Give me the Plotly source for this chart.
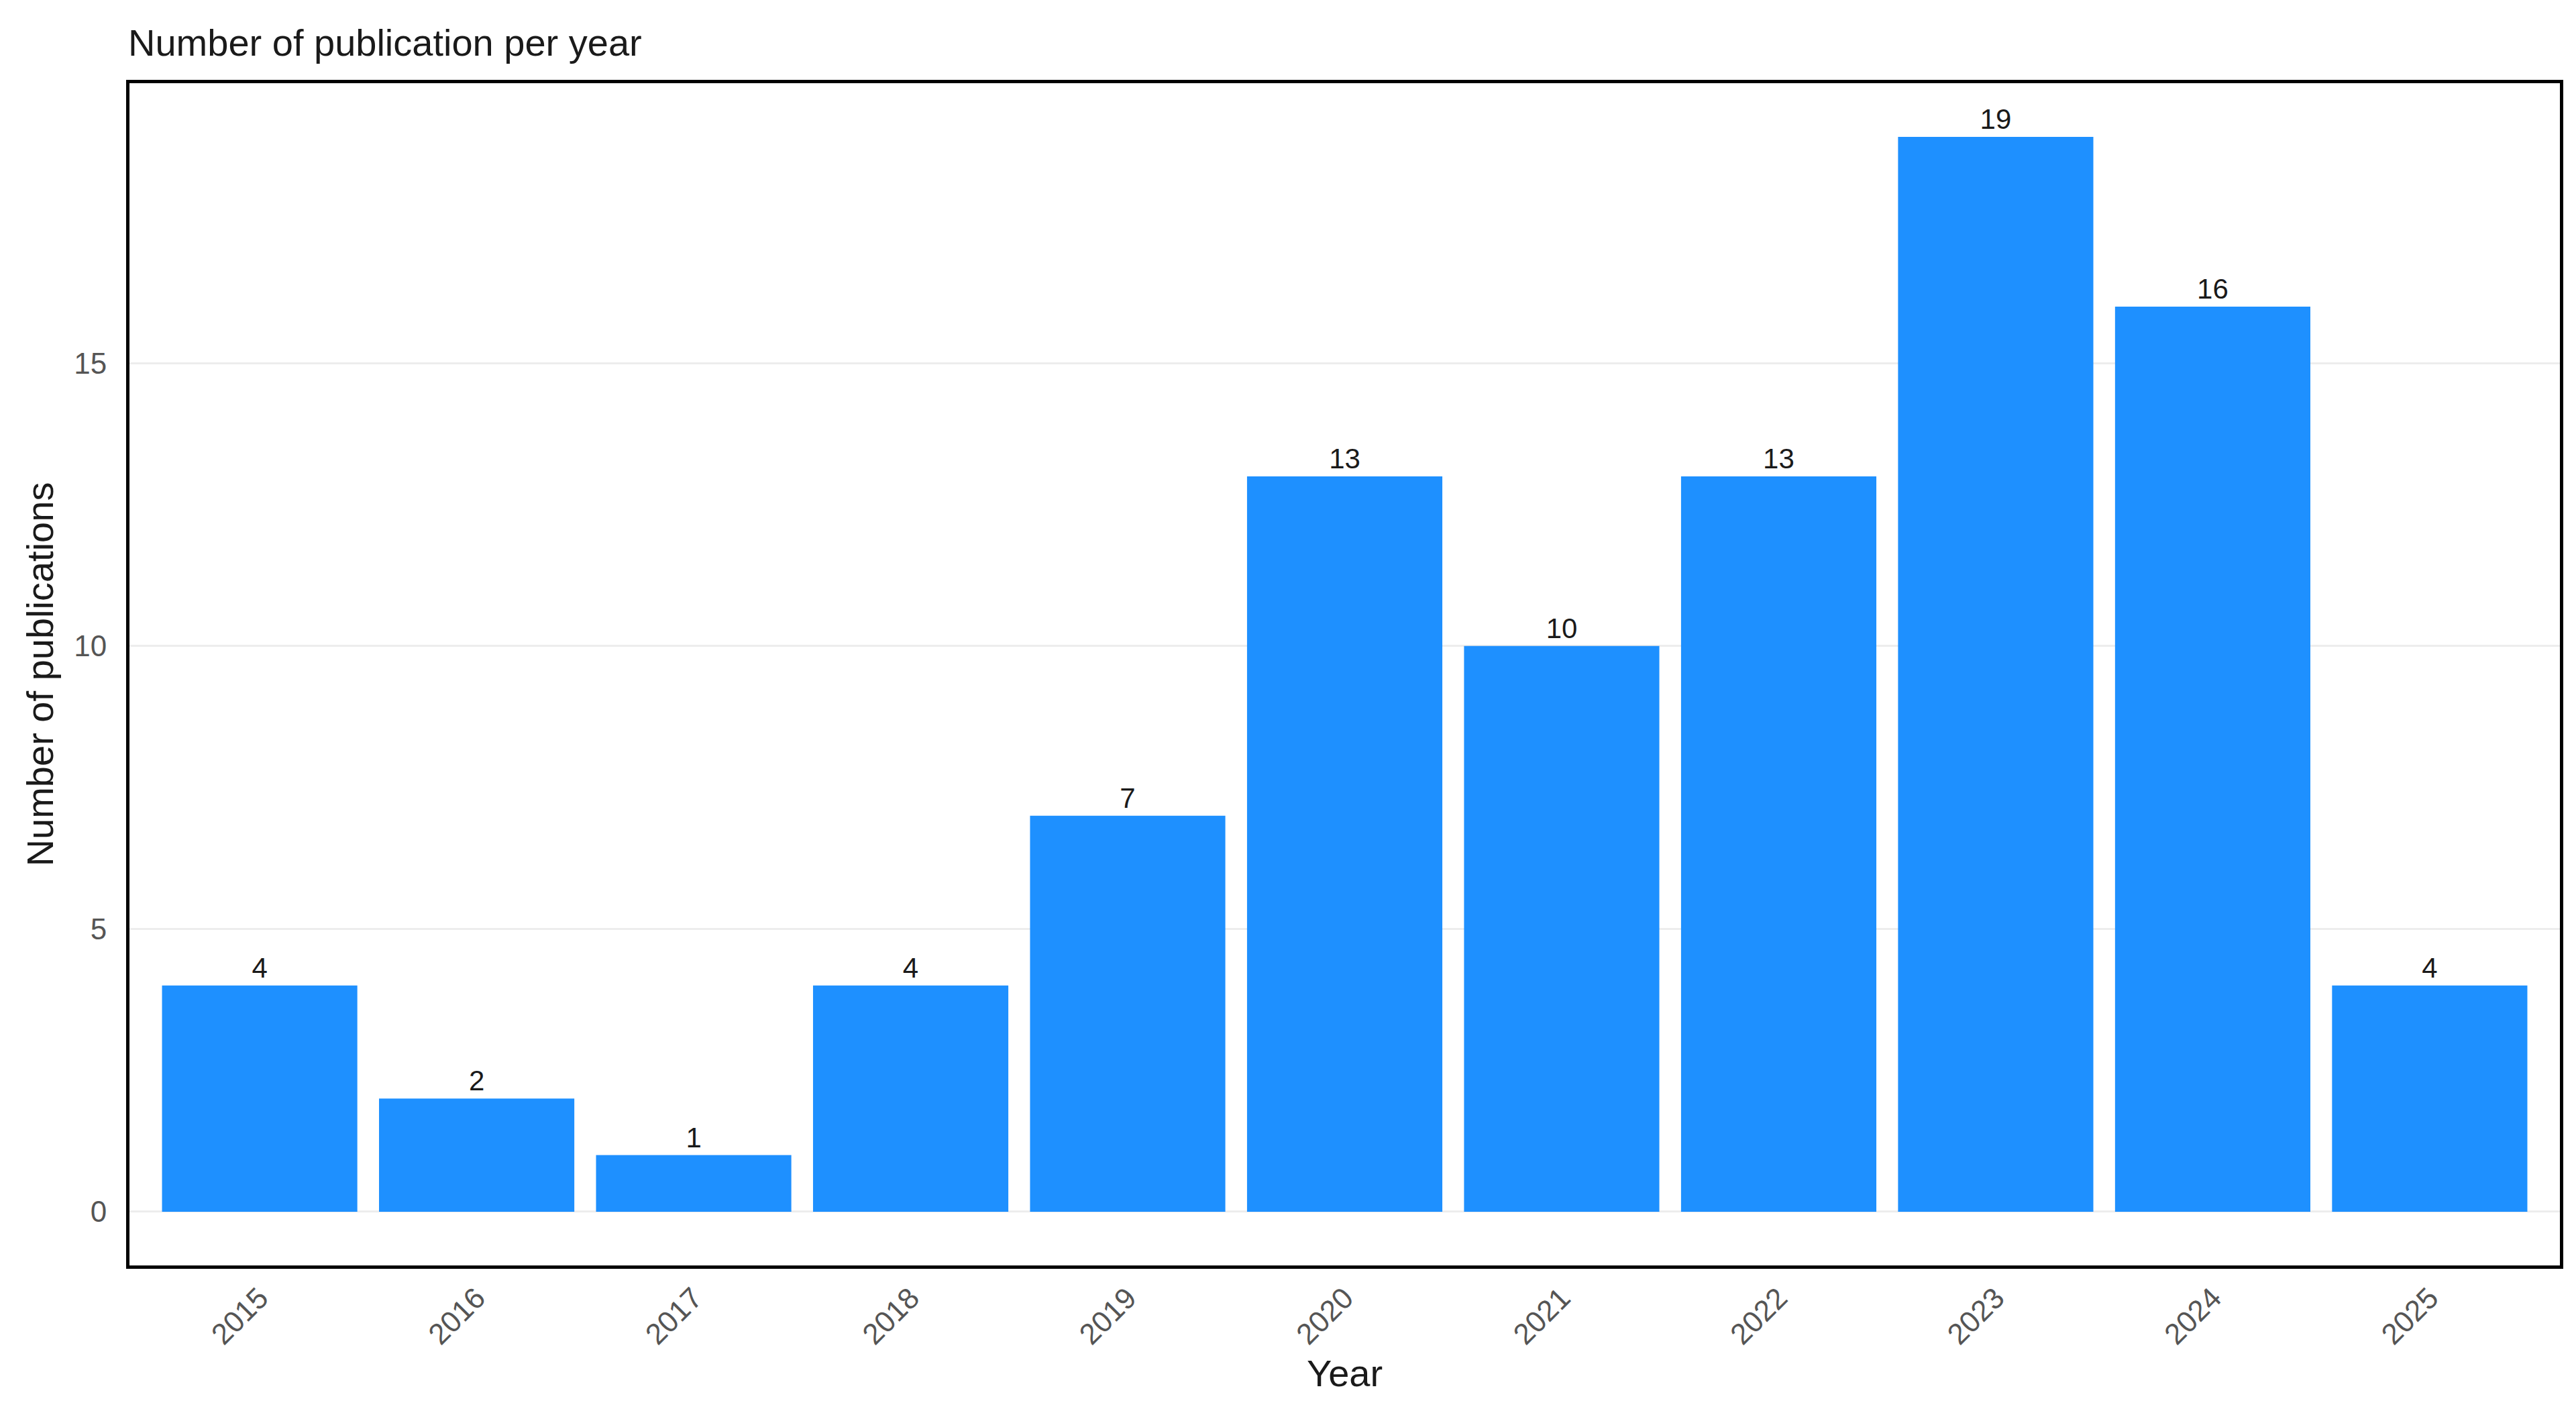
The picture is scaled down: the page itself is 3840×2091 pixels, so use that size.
import plotly.graph_objects as go

years = ["2015", "2016", "2017", "2018", "2019", "2020", "2021", "2022", "2023", "2024", "2025"]
counts = [4, 2, 1, 4, 7, 13, 10, 13, 19, 16, 4]
y_ticks = [0, 5, 10, 15]

FONT = "Liberation Sans, Arial, sans-serif"

fig = go.Figure(
    go.Bar(
        x=years,
        y=counts,
        marker=dict(color="#1E90FF", line=dict(width=0)),
        text=[str(c) for c in counts],
        textposition="outside",
        textfont=dict(size=42, color="#1a1a1a", family=FONT),
        cliponaxis=False,
        width=0.9,
    )
)

fig.update_layout(
    width=3840,
    height=2091,
    autosize=False,
    paper_bgcolor="white",
    plot_bgcolor="white",
    margin=dict(l=185, r=32, t=116, b=213),
    font=dict(family=FONT, color="#1a1a1a"),
    showlegend=False,
    title=dict(
        text="Number of publication per year",
        x=183 / 3840,
        xref="container",
        xanchor="left",
        y=1 - 55 / 2091,
        yref="container",
        yanchor="middle",
        font=dict(size=56, color="#1a1a1a", family=FONT),
    ),
)

fig.update_xaxes(
    type="category",
    range=[-0.6, 10.6],
    showgrid=False,
    showline=True,
    mirror=True,
    linecolor="black",
    linewidth=5,
    ticks="",
    tickangle=-45,
    tickfont=dict(size=44, color="#555555", family=FONT),
    title=dict(text="Year", font=dict(size=56, color="#1a1a1a", family=FONT), standoff=16),
)

fig.update_yaxes(
    range=[-0.95, 19.95],
    tickvals=y_ticks,
    showgrid=True,
    gridcolor="#EDEDED",
    gridwidth=3,
    zeroline=False,
    showline=True,
    mirror=True,
    linecolor="black",
    linewidth=5,
    ticks="",
    ticklabelstandoff=20,
    tickfont=dict(size=44, color="#555555", family=FONT),
    title=dict(text="Number of publications", font=dict(size=56, color="#1a1a1a", family=FONT), standoff=14),
)

fig.write_html("out.html")
